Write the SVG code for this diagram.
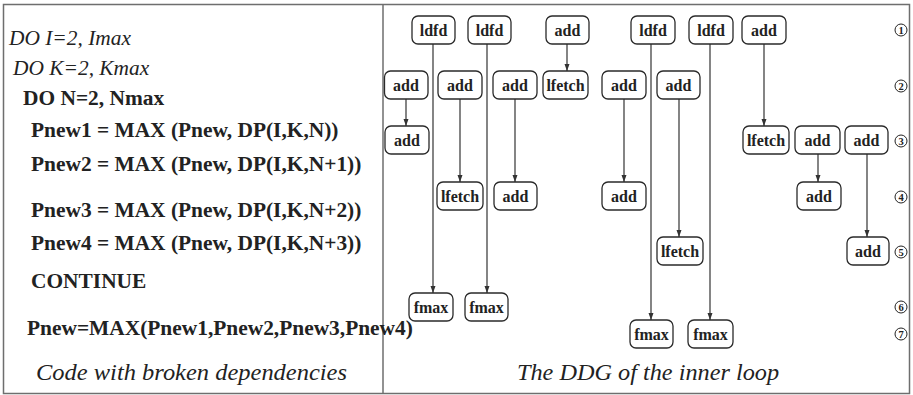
<svg xmlns="http://www.w3.org/2000/svg" width="913" height="395" viewBox="0 0 913 395">
<style>
.frame{fill:none;stroke:#6e6e6e;stroke-width:1.5}
.box{fill:#fff;stroke:#2a2a2a;stroke-width:1.3}
.lbl{font-family:"Liberation Serif","Times New Roman",serif;font-weight:bold;font-size:16px;fill:#222;text-anchor:middle}
.code{font-family:"Liberation Serif","Times New Roman",serif;font-size:21.4px;fill:#222}
.b{font-weight:bold}
.i{font-style:italic}
.cap{font-family:"Liberation Serif","Times New Roman",serif;font-style:italic;font-size:24px;fill:#222}
.edge{stroke:#333;stroke-width:1.2;fill:none;marker-end:url(#ah)}
.num circle{fill:none;stroke:#222;stroke-width:1}
.num text{font-family:"Liberation Serif","Times New Roman",serif;font-size:10.5px;font-weight:bold;fill:#222;text-anchor:middle}
</style>
<defs>
<marker id="ah" markerUnits="userSpaceOnUse" markerWidth="8" markerHeight="8" refX="7" refY="3" orient="auto">
<path d="M0,0.5 L7,3 L0,5.5 z" fill="#333"/>
</marker>
</defs>
<rect width="913" height="395" fill="#fff"/>
<rect class="frame" x="3.5" y="4.5" width="906" height="389"/>
<line class="frame" x1="383" y1="4.5" x2="383" y2="393.5"/>

<g id="code">
<text class="code i" x="9" y="45">DO I=2, Imax</text>
<text class="code i" x="13" y="75">DO K=2, Kmax</text>
<text class="code b" x="23" y="105">DO N=2, Nmax</text>
<text class="code b" x="31" y="137">Pnew1 = MAX (Pnew, DP(I,K,N))</text>
<text class="code b" x="31" y="171">Pnew2 = MAX (Pnew, DP(I,K,N+1))</text>
<text class="code b" x="31" y="217">Pnew3 = MAX (Pnew, DP(I,K,N+2))</text>
<text class="code b" x="31" y="250">Pnew4 = MAX (Pnew, DP(I,K,N+3))</text>
<text class="code b" x="31" y="288">CONTINUE</text>
<text class="code b" x="27" y="335">Pnew=MAX(Pnew1,Pnew2,Pnew3,Pnew4)</text>
<text class="cap" x="36" y="380" textLength="311" lengthAdjust="spacingAndGlyphs">Code with broken dependencies</text>
<text class="cap" x="517" y="380" textLength="262" lengthAdjust="spacingAndGlyphs">The DDG of the inner loop</text>
</g>

<g id="connectors">
<line class="edge" x1="433" y1="44" x2="433" y2="293"/>
<line class="edge" x1="487" y1="44" x2="487" y2="293"/>
<line class="edge" x1="567" y1="44" x2="567" y2="71"/>
<line class="edge" x1="406" y1="99" x2="406" y2="126"/>
<line class="edge" x1="460" y1="99" x2="460" y2="182"/>
<line class="edge" x1="515" y1="99" x2="515" y2="182"/>
<line class="edge" x1="651" y1="44" x2="651" y2="320"/>
<line class="edge" x1="624" y1="99" x2="624" y2="182"/>
<line class="edge" x1="679" y1="99" x2="679" y2="237"/>
<line class="edge" x1="710" y1="44" x2="710" y2="320"/>
<line class="edge" x1="764" y1="44" x2="764" y2="126"/>
<line class="edge" x1="818" y1="154" x2="818" y2="182"/>
<line class="edge" x1="867" y1="154" x2="867" y2="237"/>
</g>

<g id="n1"><rect class="box" x="412" y="16" width="43" height="28" rx="6"/><text class="lbl" x="433.5" y="35.5">ldfd</text></g>
<g id="n2"><rect class="box" x="468" y="16" width="43" height="28" rx="6"/><text class="lbl" x="489.5" y="35.5">ldfd</text></g>
<g id="n3"><rect class="box" x="546" y="16" width="43" height="28" rx="6"/><text class="lbl" x="567.5" y="35.5">add</text></g>
<g id="n4"><rect class="box" x="631" y="16" width="44" height="28" rx="6"/><text class="lbl" x="653" y="35.5">ldfd</text></g>
<g id="n5"><rect class="box" x="689" y="16" width="44" height="28" rx="6"/><text class="lbl" x="711" y="35.5">ldfd</text></g>
<g id="n6"><rect class="box" x="742" y="16" width="44" height="28" rx="6"/><text class="lbl" x="764" y="35.5">add</text></g>

<g id="n7"><rect class="box" x="384.5" y="71" width="43.5" height="28" rx="6"/><text class="lbl" x="406" y="90.5">add</text></g>
<g id="n8"><rect class="box" x="438" y="71" width="44" height="28" rx="6"/><text class="lbl" x="460" y="90.5">add</text></g>
<g id="n9"><rect class="box" x="493" y="71" width="44" height="28" rx="6"/><text class="lbl" x="515" y="90.5">add</text></g>
<g id="n10"><rect class="box" x="543" y="71" width="45" height="28" rx="6"/><text class="lbl" x="565.5" y="90.5">lfetch</text></g>
<g id="n11"><rect class="box" x="602" y="71" width="44" height="28" rx="6"/><text class="lbl" x="624" y="90.5">add</text></g>
<g id="n12"><rect class="box" x="657" y="71" width="43" height="28" rx="6"/><text class="lbl" x="678.5" y="90.5">add</text></g>

<g id="n13"><rect class="box" x="385" y="126" width="44" height="28" rx="6"/><text class="lbl" x="407" y="145.5">add</text></g>
<g id="n14"><rect class="box" x="743" y="126" width="46" height="28" rx="6"/><text class="lbl" x="766" y="145.5">lfetch</text></g>
<g id="n15"><rect class="box" x="795" y="126" width="45" height="28" rx="6"/><text class="lbl" x="817.5" y="145.5">add</text></g>
<g id="n16"><rect class="box" x="845" y="126" width="43" height="28" rx="6"/><text class="lbl" x="866.5" y="145.5">add</text></g>

<g id="n17"><rect class="box" x="437" y="182" width="46" height="28" rx="6"/><text class="lbl" x="460" y="201.5">lfetch</text></g>
<g id="n18"><rect class="box" x="494" y="182" width="43" height="28" rx="6"/><text class="lbl" x="515.5" y="201.5">add</text></g>
<g id="n19"><rect class="box" x="602" y="182" width="44" height="28" rx="6"/><text class="lbl" x="624" y="201.5">add</text></g>
<g id="n20"><rect class="box" x="797" y="182" width="44" height="28" rx="6"/><text class="lbl" x="819" y="201.5">add</text></g>

<g id="n21"><rect class="box" x="657" y="237" width="46" height="28" rx="6"/><text class="lbl" x="680" y="256.5">lfetch</text></g>
<g id="n22"><rect class="box" x="847" y="237" width="42" height="28" rx="6"/><text class="lbl" x="868" y="256.5">add</text></g>

<g id="n23"><rect class="box" x="409" y="293" width="44" height="28" rx="6"/><text class="lbl" x="431" y="312.5">fmax</text></g>
<g id="n24"><rect class="box" x="465" y="293" width="43" height="28" rx="6"/><text class="lbl" x="486.5" y="312.5">fmax</text></g>
<g id="n25"><rect class="box" x="630" y="320" width="43" height="28" rx="6"/><text class="lbl" x="651.5" y="339.5">fmax</text></g>
<g id="n26"><rect class="box" x="688" y="320" width="45" height="28" rx="6"/><text class="lbl" x="710.5" y="339.5">fmax</text></g>

<g id="levels" class="num">
<circle cx="901" cy="30" r="6"/><text x="901" y="33.7">1</text>
<circle cx="901" cy="86" r="6"/><text x="901" y="89.7">2</text>
<circle cx="901" cy="141" r="6"/><text x="901" y="144.7">3</text>
<circle cx="901" cy="197" r="6"/><text x="901" y="200.7">4</text>
<circle cx="901" cy="252" r="6"/><text x="901" y="255.7">5</text>
<circle cx="901" cy="307" r="6"/><text x="901" y="310.7">6</text>
<circle cx="901" cy="334" r="6"/><text x="901" y="337.7">7</text>
</g>
</svg>
